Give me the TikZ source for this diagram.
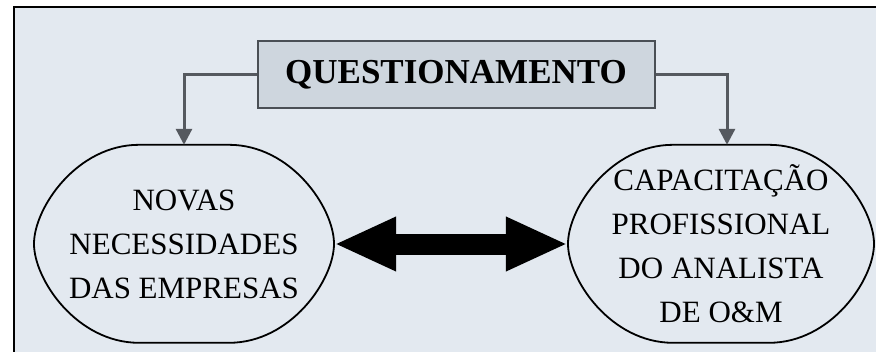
\documentclass[tikz,border=0pt]{standalone}
\usepackage{fontspec}
\setmainfont{Liberation Serif}
\usetikzlibrary{arrows.meta,positioning}
\definecolor{panelbg}{HTML}{E3E9F0}
\definecolor{boxfill}{HTML}{CED6DE}
\definecolor{boxline}{HTML}{4A4F55}
\definecolor{linkgray}{HTML}{55595F}

\begin{document}
\begin{tikzpicture}[x=1pt,y=-1pt,
  topic/.style={rectangle,draw=boxline,line width=2pt,fill=boxfill,
                minimum width=397pt,minimum height=67pt,
                font=\fontsize{35}{40}\selectfont\bfseries},
  bubble/.style={rectangle,align=center,inner sep=0pt,minimum height=198pt,
                 font=\fontsize{31}{44}\selectfont},
  outline/.style={draw=black,line width=1.8pt},
  link/.style={-{Triangle[length=16pt,width=16pt]},draw=linkgray,line width=3pt},
  both/.style={{Triangle[length=62pt,width=50pt]}-{Triangle[length=62pt,width=50pt]},
               line width=21pt,draw=black}
]
  \useasboundingbox (0,0) rectangle (876,351);
  \fill[white] (0,0) rectangle (876,351);
  \draw[line width=2pt,fill=panelbg] (14,7) rectangle (890,365);

  \node[topic] (quest) at (456,74.5) {QUESTIONAMENTO};
  \node[bubble,minimum width=300pt] (novas) at (184,244)
    {NOVAS\\NECESSIDADES\\DAS EMPRESAS};
  \node[bubble,minimum width=306pt] (capac) at (721,244)
    {CAPACITAÇÃO\\PROFISSIONAL\\DO ANALISTA\\DE O\&M};

  % flattened ovals round the two texts
  \draw[outline] (novas.north) ++(-45pt,0pt) -- ++(90pt,0pt)
    .. controls +(62pt,0pt) and +(0pt,36pt) .. ++(105pt,-99pt)
    .. controls +(0pt,-36pt) and +(62pt,0pt) .. ++(-105pt,-99pt)
    -- ++(-90pt,0pt)
    .. controls +(-62pt,0pt) and +(0pt,-36pt) .. ++(-105pt,99pt)
    .. controls +(0pt,36pt) and +(-62pt,0pt) .. ++(105pt,99pt) -- cycle;
  \draw[outline] (capac.north) ++(-48pt,0pt) -- ++(96pt,0pt)
    .. controls +(62pt,0pt) and +(0pt,36pt) .. ++(105pt,-99pt)
    .. controls +(0pt,-36pt) and +(62pt,0pt) .. ++(-105pt,-99pt)
    -- ++(-96pt,0pt)
    .. controls +(-62pt,0pt) and +(0pt,-36pt) .. ++(-105pt,99pt)
    .. controls +(0pt,36pt) and +(-62pt,0pt) .. ++(105pt,99pt) -- cycle;

  \draw[link] (quest.west) -| (novas.north);
  \draw[link] (quest.east) -| ([xshift=6pt]capac.north);
  \draw[both] (novas.east) -- (capac.west);
\end{tikzpicture}
\end{document}
